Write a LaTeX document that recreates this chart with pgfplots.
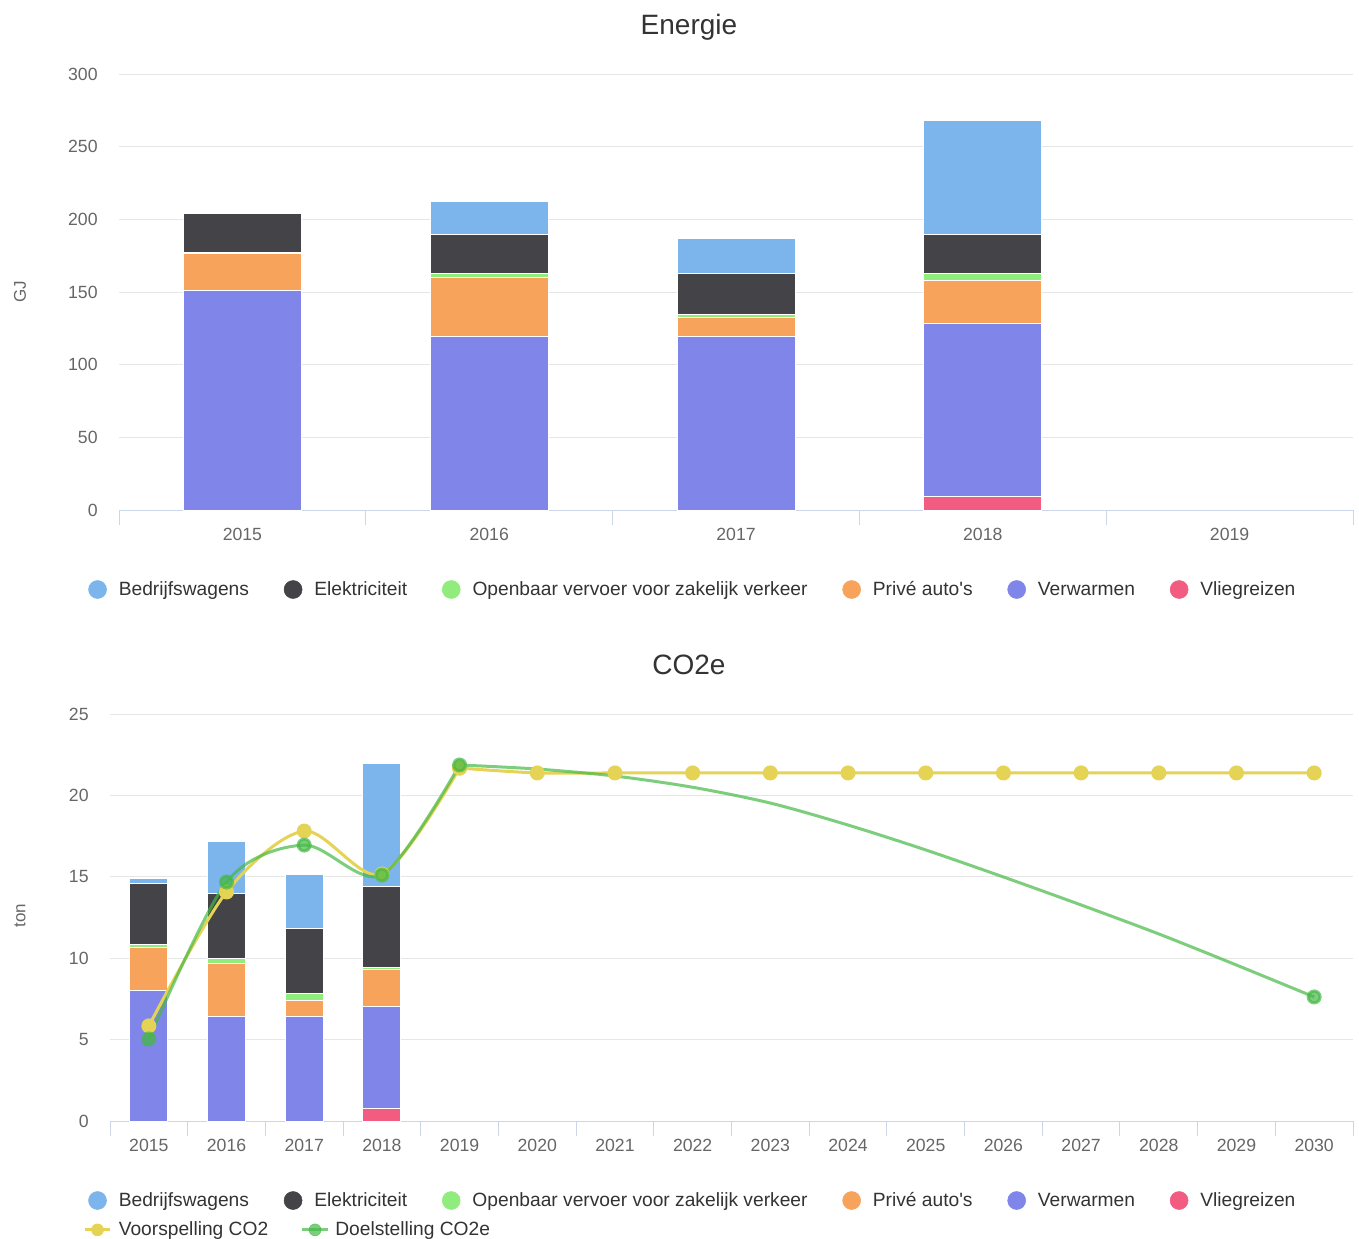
\documentclass[border=0pt]{standalone}
\usepackage{pgfplots}
\pgfplotsset{compat=1.18}
\usepackage{fontspec}
\setmainfont{Liberation Sans}[Ligatures=TeXOff]
\definecolor{cBed}{HTML}{7CB5EC}
\definecolor{cEle}{HTML}{434348}
\definecolor{cOpe}{HTML}{90ED7D}
\definecolor{cPri}{HTML}{F7A35C}
\definecolor{cVer}{HTML}{8085E9}
\definecolor{cVli}{HTML}{F15C80}
\definecolor{cYel}{HTML}{E4D354}
\definecolor{cGrn}{HTML}{45B845}
\definecolor{cTick}{HTML}{666666}
\definecolor{cText}{HTML}{333333}
\definecolor{cAxis}{HTML}{CCD6EB}
\definecolor{cGrid}{HTML}{E6E6E6}
\pgfplotsset{
  circleg/.style={legend image code/.code={\fill[#1] (0pt,0pt) circle (6.75pt);}},
  hcbase/.style={
    scale only axis,
    anchor=south west,
    axis x line*=bottom,
    axis y line*=left,
    x axis line style={cAxis, line width=0.75pt},
    y axis line style={draw=none},
    ymin=0,
    ymajorgrids,
    grid style={cGrid, line width=0.75pt},
    major tick length=0pt,
    minor tick length=11.25pt,
    tick align=outside,
    minor tick style={cAxis, line width=0.75pt},
    ytick style={draw=none},
    tick label style={font=\fontsize{13.25}{15.5}\selectfont, text=cTick},
    /pgf/number format/assume math mode=true,
    yticklabel style={xshift=-12.5pt},
    xticklabel style={yshift=-10.25pt},
    ylabel style={font=\fontsize{12.75}{15}\selectfont, text=cTick, anchor=center},
    title style={font=\fontsize{21}{25}\selectfont, text=cText, anchor=base},
    legend columns=6,
    legend cell align=left,
    legend style={draw=none, fill=none, inner sep=0pt, anchor=north west,
      font=\fontsize{14.4}{17}\selectfont, text=cText,
      /tikz/every odd column/.append style={column sep=7pt},
      /tikz/every even column/.append style={column sep=24.1pt},
      row sep=6pt},
  },
  bars/.style={draw=white, line width=0.75pt},
  yline/.style={cYel, line width=2.25pt, smooth, tension=0.5, mark=*, mark size=4.5pt, mark options={draw=none, fill=cYel}},
  gline/.style={cGrn, opacity=0.7, line width=2.25pt, smooth, tension=0.5, mark=*, mark size=4.5pt, mark options={draw=none, fill=cGrn}},
}
\begin{document}
\begin{tikzpicture}
% ---------------- Energie ----------------
\begin{axis}[hcbase,
  at={(89.25pt,-382.5pt)},
  width=925.5pt, height=327pt,
  ybar stacked, bar width=88.5pt,
  xmin=-0.5, xmax=4.5, ymax=300,
  ytick={0,50,100,150,200,250,300},
  xtick={0,1,2,3,4}, xticklabels={2015,2016,2017,2018,2019},
  minor xtick={-0.5,0.5,1.5,2.5,3.5,4.5},
  ylabel={GJ},
  ylabel style={at={(axis description cs:-0.0802,0.5)}},
  title={Energie},
  title style={at={(axis description cs:0.4619,1.0734)}},
  legend style={at={(axis description cs:-0.0251,-0.1571)}},
]
\addlegendimage{circleg=cBed}
\addlegendimage{circleg=cEle}
\addlegendimage{circleg=cOpe}
\addlegendimage{circleg=cPri}
\addlegendimage{circleg=cVer}
\addlegendimage{circleg=cVli}
\addplot[bars, fill=cVli, forget plot] coordinates {(0,0) (1,0) (2,0) (3,9.6)};
\addplot[bars, fill=cVer, forget plot] coordinates {(0,150.7) (1,119.7) (2,119.3) (3,118.9)};
\addplot[bars, fill=cPri, forget plot] coordinates {(0,26.1) (1,40.4) (2,13.3) (3,29.5)};
\addplot[bars, fill=cOpe, forget plot] coordinates {(0,0.3) (1,2.3) (2,2.0) (3,4.4)};
\addplot[bars, fill=cEle, forget plot] coordinates {(0,27.1) (1,27.3) (2,27.8) (3,27.5)};
\addplot[bars, fill=cBed, forget plot] coordinates {(0,0) (1,22.9) (2,24.1) (3,78.0)};
\legend{Bedrijfswagens, Elektriciteit, Openbaar vervoer voor zakelijk verkeer, Privé auto's, Verwarmen, Vliegreizen}
\end{axis}
% ---------------- CO2e bars ----------------
\begin{axis}[hcbase,
  at={(82.5pt,-840.75pt)},
  width=932.25pt, height=305.25pt,
  ybar stacked, bar width=28.5pt,
  xmin=-0.5, xmax=15.5, ymax=25,
  ytick={0,5,10,15,20,25},
  xtick={0,1,...,15},
  xticklabels={2015,2016,2017,2018,2019,2020,2021,2022,2023,2024,2025,2026,2027,2028,2029,2030},
  minor xtick={-0.5,0.5,...,15.5},
  ylabel={ton},
  ylabel style={at={(axis description cs:-0.0724,0.504)}},
  title={CO2e},
  title style={at={(axis description cs:0.4658,1.0786)}},
  legend style={at={(axis description cs:-0.0177,-0.1683)}},
]
\addlegendimage{circleg=cBed}
\addlegendimage{circleg=cEle}
\addlegendimage{circleg=cOpe}
\addlegendimage{circleg=cPri}
\addlegendimage{circleg=cVer}
\addlegendimage{circleg=cVli}
\addlegendimage{legend image code/.code={\draw[overlay,cYel,line width=2.25pt] (-9.4pt,0pt) -- (9.4pt,0pt);\fill[overlay,cYel] (0pt,0pt) circle (4.5pt);\path (0pt,0pt);}}
\addlegendimage{legend image code/.code={\draw[overlay,cGrn,opacity=0.7,line width=2.25pt] (6.75pt,0pt) -- (26.25pt,0pt);\fill[overlay,cGrn,opacity=0.7] (16.5pt,0pt) circle (4.5pt);\path (0pt,0pt);}}
\addplot[bars, fill=cVli, forget plot] coordinates {(0,0) (1,0) (2,0) (3,0.74)};
\addplot[bars, fill=cVer, forget plot] coordinates {(0,8.0) (1,6.43) (2,6.43) (3,6.30)};
\addplot[bars, fill=cPri, forget plot] coordinates {(0,2.67) (1,3.26) (2,0.98) (3,2.25)};
\addplot[bars, fill=cOpe, forget plot] coordinates {(0,0.15) (1,0.28) (2,0.41) (3,0.17)};
\addplot[bars, fill=cEle, forget plot] coordinates {(0,3.8) (1,4.03) (2,4.02) (3,4.93)};
\addplot[bars, fill=cBed, forget plot] coordinates {(0,0.27) (1,3.14) (2,3.33) (3,7.54)};
\legend{Bedrijfswagens, Elektriciteit, Openbaar vervoer voor zakelijk verkeer, Privé auto's, Verwarmen, Vliegreizen, \makebox[0pt][l]{Voorspelling CO2}, \makebox[0pt][l]{\hspace*{15.75pt}Doelstelling CO2e}}
\end{axis}
% ---------------- CO2e lines ----------------
\begin{axis}[scale only axis, anchor=south west,
  at={(82.5pt,-840.75pt)},
  width=932.25pt, height=305.25pt,
  xmin=-0.5, xmax=15.5, ymin=0, ymax=25, hide axis, clip=false]
% Voorspelling CO2
\addplot[yline] coordinates {(0,5.84) (1,14.07) (2,17.81) (3,15.17) (4,21.68)};
\addplot[yline] coordinates {(4,21.68) (5,21.38) (6,21.38) (7,21.38) (8,21.38) (9,21.38) (10,21.38) (11,21.38) (12,21.38) (13,21.38) (14,21.38) (15,21.38)};
% Doelstelling CO2e
\addplot[gline] coordinates {(0,5.04) (1,14.68) (2,16.95) (3,15.11) (4,21.87)};
\addplot[gline, mark indices={12}] coordinates {(4,21.87) (5,21.62) (6,21.19) (7,20.5) (8,19.53) (9,18.18) (10,16.65) (11,14.99) (12,13.27) (13,11.49) (14,9.58) (15,7.62)};
\end{axis}
\pgfresetboundingbox
\path[use as bounding box] (0pt,0pt) rectangle (1019.25pt,-928.5pt);
\end{tikzpicture}
\end{document}
